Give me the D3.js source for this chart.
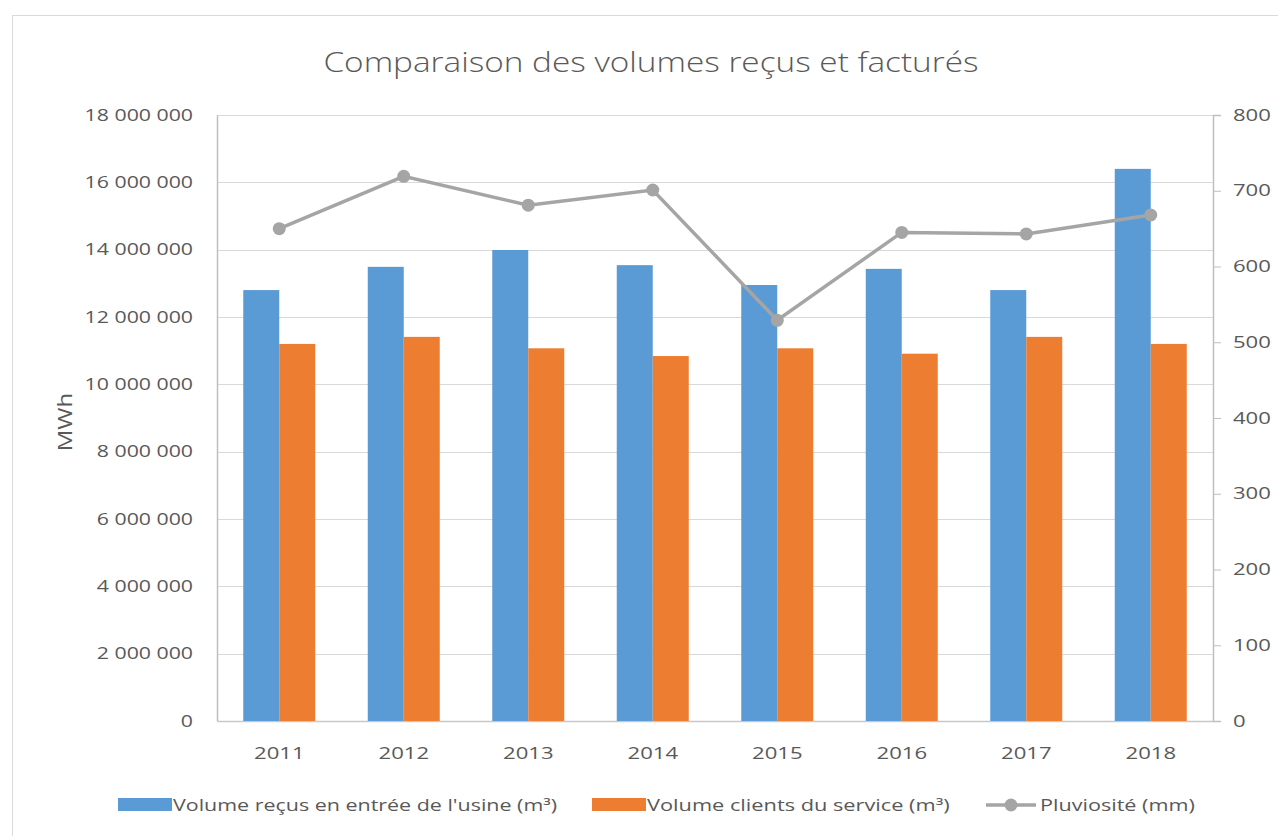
<!DOCTYPE html>
<html>
<head>
<meta charset="utf-8">
<script src="https://cdn.jsdelivr.net/npm/d3@7"></script>
<style>
  body { margin: 0; background: #fff; }
  text { font-family: "Open Sans", "Noto Sans", sans-serif; fill: #595959; }
</style>
</head>
<body>
<svg id="chart" width="1278" height="836"></svg>
<script>
// data
const years = ["2011", "2012", "2013", "2014", "2015", "2016", "2017", "2018"];
const volRecus = [12800000, 13490000, 13990000, 13540000, 12950000, 13430000, 12800000, 16400000];
const volClients = [11200000, 11410000, 11070000, 10840000, 11070000, 10910000, 11410000, 11200000];
const pluvio = [650, 719, 681, 701, 529, 645, 643, 668];
const leftTicks = [0, 2000000, 4000000, 6000000, 8000000, 10000000, 12000000, 14000000, 16000000, 18000000];
const rightTicks = [0, 100, 200, 300, 400, 500, 600, 700, 800];

const blue = "#5b9bd5", orange = "#ed7d31", grey = "#a5a5a5";

const margin = { top: 115, right: 65, bottom: 115, left: 217 },
  width = 1278 - margin.left - margin.right,
  height = 836 - margin.top - margin.bottom;

// the original picture is stretched sideways, so widen the text the same way
function stretch(sel, k) {
  sel.each(function () {
    const w = this.getComputedTextLength();
    d3.select(this).attr("textLength", w * k).attr("lengthAdjust", "spacingAndGlyphs");
  });
}

const root = d3.select("#chart");

// outer frame
root.append("rect")
  .attr("x", 12.5).attr("y", 15.5)
  .attr("width", 1300).attr("height", 900)
  .attr("fill", "none").attr("stroke", "#d9d9d9");

root.append("text")
  .attr("x", 651).attr("y", 72)
  .attr("text-anchor", "middle")
  .style("font-size", "28px")
  .style("font-weight", 300)
  .text("Comparaison des volumes reçus et facturés")
  .call(stretch, 1.19);

const svg = root.append("g")
  .attr("transform", `translate(${margin.left},${margin.top})`);

const x = d3.scaleBand().domain(years).range([0, width]);
const xSub = d3.scaleBand().domain(["a", "b"]).range([0, 72]);
const y = d3.scaleLinear().domain([0, 18000000]).range([height, 0]);
const y2 = d3.scaleLinear().domain([0, 800]).range([height, 0]);

const fmt = v => d3.format(",")(v).replace(/,/g, " ");

// gridlines
svg.append("g")
  .selectAll("line")
  .data(leftTicks.slice(1))
  .join("line")
  .attr("x1", 0).attr("x2", width)
  .attr("y1", d => Math.round(y(d)) + 0.5).attr("y2", d => Math.round(y(d)) + 0.5)
  .attr("stroke", "#d9d9d9");

// left axis
const yAxis = svg.append("g")
  .call(d3.axisLeft(y).tickValues(leftTicks).tickFormat(fmt).tickSize(0).tickPadding(24));
yAxis.select(".domain").attr("stroke", "#bfbfbf").attr("stroke-width", 1.5);
yAxis.selectAll("text").style("font-size", "16px").attr("fill", "#595959").call(stretch, 1.33);

// right axis
const yAxis2 = svg.append("g")
  .attr("transform", `translate(${width},0)`)
  .call(d3.axisRight(y2).tickValues(rightTicks).tickSize(8).tickSizeOuter(8).tickPadding(12));
yAxis2.select(".domain").attr("stroke", "#bfbfbf").attr("stroke-width", 1.5);
yAxis2.selectAll(".tick line").attr("stroke", "#bfbfbf");
yAxis2.selectAll("text").style("font-size", "16px").attr("fill", "#595959").call(stretch, 1.38);

// x axis
const xAxis = svg.append("g")
  .attr("transform", `translate(0,${height})`)
  .call(d3.axisBottom(x).tickSize(0).tickPadding(27));
xAxis.select(".domain").attr("stroke", "#c8c8c8").attr("stroke-width", 1.5);
xAxis.selectAll("text").style("font-size", "16px").attr("fill", "#595959").call(stretch, 1.38);

// bars
const groups = svg.append("g")
  .selectAll("g")
  .data(years)
  .join("g")
  .attr("transform", d => `translate(${x(d) + (x.bandwidth() - 72) / 2},0)`);

groups.append("rect")
  .attr("x", xSub("a"))
  .attr("width", xSub.bandwidth())
  .attr("y", (d, i) => y(volRecus[i]))
  .attr("height", (d, i) => height - y(volRecus[i]))
  .attr("fill", blue);

groups.append("rect")
  .attr("x", xSub("b"))
  .attr("width", xSub.bandwidth())
  .attr("y", (d, i) => y(volClients[i]))
  .attr("height", (d, i) => height - y(volClients[i]))
  .attr("fill", orange);

// rainfall line
const line = d3.line()
  .x((d, i) => x(years[i]) + x.bandwidth() / 2)
  .y(d => y2(d));

svg.append("path")
  .datum(pluvio)
  .attr("d", line)
  .attr("fill", "none")
  .attr("stroke", grey)
  .attr("stroke-width", 3.5);

svg.selectAll(".dot")
  .data(pluvio)
  .join("circle")
  .attr("class", "dot")
  .attr("cx", (d, i) => x(years[i]) + x.bandwidth() / 2)
  .attr("cy", d => y2(d))
  .attr("r", 6.5)
  .attr("fill", grey);

// y label
root.append("text")
  .attr("transform", "translate(72,422) rotate(-90)")
  .attr("text-anchor", "middle")
  .style("font-size", "20px")
  .text("MWh")
  .call(stretch, 1.2);

// legend
const legend = root.append("g").attr("transform", "translate(0,805)");
legend.append("rect").attr("x", 118).attr("y", -7).attr("width", 54).attr("height", 13).attr("fill", blue);
legend.append("text").attr("x", 173).attr("y", 6).style("font-size", "16px")
  .text("Volume reçus en entrée de l'usine (m³)").call(stretch, 1.34);
legend.append("rect").attr("x", 592).attr("y", -7).attr("width", 54).attr("height", 13).attr("fill", orange);
legend.append("text").attr("x", 647).attr("y", 6).style("font-size", "16px")
  .text("Volume clients du service (m³)").call(stretch, 1.36);
legend.append("line").attr("x1", 986).attr("x2", 1036).attr("y1", 0).attr("y2", 0)
  .attr("stroke", grey).attr("stroke-width", 3.5);
legend.append("circle").attr("cx", 1011).attr("cy", 0).attr("r", 6.5).attr("fill", grey);
legend.append("text").attr("x", 1040).attr("y", 6).style("font-size", "16px")
  .text("Pluviosité (mm)").call(stretch, 1.35);
</script>
</body>
</html>
